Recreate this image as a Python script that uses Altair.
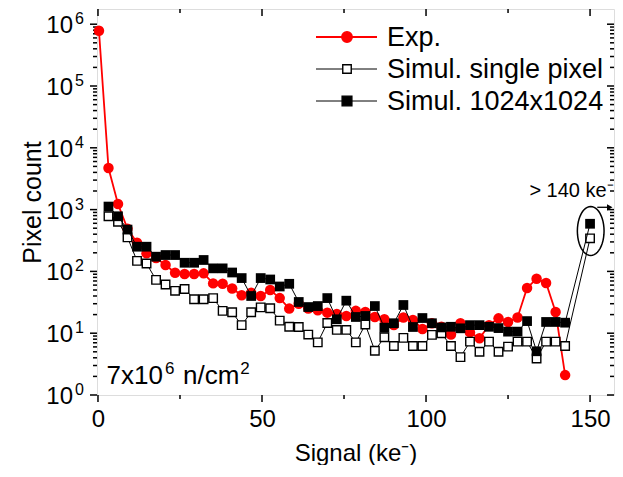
import math
import altair as alt
import pandas as pd

# ---------------- data ----------------
signal = [0.3, 3.2, 6.1, 9.0, 11.9, 14.8, 17.7, 20.6, 23.5, 26.4,
          29.3, 32.2, 35.1, 38.0, 40.9, 43.8, 46.7, 49.6, 52.5, 55.4,
          58.3, 61.2, 64.1, 67.0, 69.9, 72.8, 75.7, 78.6, 81.5, 84.4,
          87.3, 90.2, 93.1, 96.0, 98.9, 101.8, 104.7, 107.6, 110.5, 113.4,
          116.3, 119.2, 122.1, 125.0, 127.9, 130.8, 133.7, 136.6, 139.5, 142.4]

exp_counts = [785000, 4700, 1230, 490, 290, 196, 165, 127, 95, 91,
              91, 93, 64, 63, 53, 41, 45, 40, 50, 37,
              25, 30, 25, 23.5, 21.5, 20.4, 19, 23, 22, 18.3,
              16.8, 13.6, 18, 16.4, 11.7, 14.5, 12.7, 9.5, 14.5, 10.3,
              8.3, 13.5, 17.4, 15.2, 18, 54, 76, 65, 22, 2.1]

# simulated series start at the second bin
single_counts = [780, 635, 355, 148, 134, 73, 61.5, 48.5, 52,
                 35.5, 35.5, 37, 23, 21.8, 13.5, 21.8, 26.2, 25.3, 16,
                 12.7, 12.6, 9.5, 7.1, 14.6, 11.3, 11.3, 7.1, 13.8, 5.2,
                 8.6, 6.2, 8.4, 6.2, 6.2, 9.4, 10, 6.2, 4.1, 7.3,
                 5.0, 7.3, 5.0, 6.06, 7.3, 7.3, 3.9, 7.3, 7.3, 6.2]

full_counts = [1120, 780, 475, 251, 251, 173, 184, 184, 138,
               138, 153, 112, 112, 96, 78, 40, 78, 74, 57,
               63, 32, 26.5, 27.5, 37, 16.8, 33.6, 18.3, 19, 27.5,
               12.3, 14.5, 28.6, 12.6, 17.6, 14.5, 12.4, 12.7, 12, 13.5,
               13.5, 12.7, 12.1, 10.6, 10.6, 15.7, 5.1, 15.2, 15.2, 14.8]

overflow_x = 150
overflow_single = 343
overflow_full = 590

x_major = [0, 50, 100, 150]
x_minor = [25, 75, 125]
y_major = [1, 10, 100, 1000, 10000, 100000, 1000000]
y_exponents = ["0", "1", "2", "3", "4", "5", "6"]
y_minor = [m * 10 ** k for k in range(6) for m in range(2, 10)]

legend_labels = ["Exp.", "Simul. single pixel", "Simul. 1024x1024"]

# ---------------- layout / style ----------------
W, H = 517, 386
FONT = "Liberation Sans"
XS = alt.Scale(domain=[-0.3, 157.3], nice=False, zero=False)
YS = alt.Scale(type="log", domain=[1, 1.762e6], nice=False)

df_exp = pd.DataFrame({"x": signal, "y": exp_counts})
df_single = pd.DataFrame({"x": signal[1:] + [overflow_x], "y": single_counts + [overflow_single]})
df_full = pd.DataFrame({"x": signal[1:] + [overflow_x], "y": full_counts + [overflow_full]})

X_AXIS = alt.Axis(values=x_major, title="Signal (ke⁻)", ticks=False, domain=False, grid=False,
                  labelFontSize=24, titleFontSize=24, labelPadding=12, titlePadding=10,
                  labelFont=FONT, titleFont=FONT, labelColor="black", titleColor="black",
                  titleFontWeight="normal", labelFlush=False)
Y_AXIS = alt.Axis(values=y_major, title="Pixel count", ticks=False, domain=False, grid=False,
                  labels=False, titleX=-52, titleY=H / 2,
                  titleFontSize=25, titleFont=FONT, titleColor="black",
                  titleFontWeight="normal")

def xenc():
    return alt.X("x:Q", scale=XS, axis=X_AXIS)

def yenc():
    return alt.Y("y:Q", scale=YS, axis=Y_AXIS)

layers = []

# Exp. line first so it owns the axes
layers.append(alt.Chart(df_exp).mark_line(color="#ff0000", strokeWidth=1.8)
              .encode(x=xenc(), y=yenc()))

# tick marks (bottom/left outward, top/right inward)
def xticks(vals, length):
    d = pd.DataFrame({"x": vals})
    b = alt.Chart(d).mark_rule(color="black", strokeWidth=1.5)
    return [b.encode(x=xenc(), y=alt.value(H), y2=alt.value(H + length)),
            b.encode(x=xenc(), y=alt.value(0), y2=alt.value(length))]

def yticks(vals, length):
    d = pd.DataFrame({"y": vals})
    b = alt.Chart(d).mark_rule(color="black", strokeWidth=1.5)
    return [b.encode(y=yenc(), x=alt.value(0), x2=alt.value(-length)),
            b.encode(y=yenc(), x=alt.value(W), x2=alt.value(W - length))]

layers += xticks(x_major, 7) + xticks(x_minor, 4) + yticks(y_major, 7) + yticks(y_minor, 4)

# y tick labels as 10 with a raised exponent
ylab = pd.DataFrame({"y": y_major, "e": y_exponents})
layers.append(alt.Chart(ylab).mark_text(text="10", align="right", baseline="middle", dy=2,
                                        fontSize=24, font=FONT, color="black")
              .encode(x=alt.value(-24), y=yenc()))
layers.append(alt.Chart(ylab).mark_text(align="left", baseline="middle", dy=-5,
                                        fontSize=16, font=FONT, color="black")
              .encode(x=alt.value(-22), y=yenc(), text="e:N"))

layers.append(alt.Chart(df_exp).mark_point(shape="circle", filled=True, color="#ff0000",
                                           size=110, opacity=1)
              .encode(x=xenc(), y=yenc()))
# Simul. single pixel
layers.append(alt.Chart(df_single).mark_line(color="black", strokeWidth=1)
              .encode(x=xenc(), y=yenc()))
layers.append(alt.Chart(df_single).mark_point(shape="square", filled=True, fill="white",
                                              stroke="black", strokeWidth=1.4, size=72, opacity=1)
              .encode(x=xenc(), y=yenc()))
# Simul. 1024x1024
layers.append(alt.Chart(df_full).mark_line(color="black", strokeWidth=1)
              .encode(x=xenc(), y=yenc()))
layers.append(alt.Chart(df_full).mark_point(shape="square", filled=True, color="black",
                                            size=95, opacity=1)
              .encode(x=xenc(), y=yenc()))

# fluence annotation: 7x10^6 n/cm^2 with raised exponents
ann = pd.DataFrame({"x": [2.6, 20.4, 25.9, 43.4],
                    "y": [1.5, 2.2, 1.5, 2.2],
                    "t": ["7x10", "6", "n/cm", "2"],
                    "big": [True, False, True, False]})
layers.append(alt.Chart(ann).transform_filter("datum.big")
              .mark_text(align="left", baseline="alphabetic", fontSize=26, font=FONT, color="black")
              .encode(x=xenc(), y=yenc(), text="t:N"))
layers.append(alt.Chart(ann).transform_filter("!datum.big")
              .mark_text(align="left", baseline="alphabetic", fontSize=17, font=FONT, color="black")
              .encode(x=xenc(), y=yenc(), text="t:N"))

ann2 = pd.DataFrame({"x": [157.2], "y": [1620], "t": ["> 140 ke⁻"]})
layers.append(alt.Chart(ann2).mark_text(align="right", baseline="alphabetic", fontSize=20,
                                        font=FONT, color="black")
              .encode(x=xenc(), y=yenc(), text="t:N"))

# ellipse around the overflow bin
pts = []
for k in range(49):
    a = 2 * math.pi * k / 48
    pts.append(f"{0.545 * math.cos(a):.3f},{math.sin(a):.3f}")
ell_path = "M" + " L".join(pts) + " Z"
ell = pd.DataFrame({"x": [150.2], "y": [451]})
layers.append(alt.Chart(ell).mark_point(shape=ell_path, size=2400, filled=False,
                                        stroke="black", strokeWidth=1.5, opacity=1)
              .encode(x=xenc(), y=yenc()))
# arrow
arr = pd.DataFrame({"x": [152.2], "x2": [156.0], "y": [1090]})
layers.append(alt.Chart(arr).mark_rule(color="black", strokeWidth=1.3)
              .encode(x=xenc(), x2="x2:Q", y=yenc()))
arrh = pd.DataFrame({"x": [156.0], "y": [1090]})
layers.append(alt.Chart(arrh).mark_point(shape="triangle-right", size=40, filled=True,
                                         color="black", opacity=1)
              .encode(x=xenc(), y=yenc()))

# legend (drawn by hand)
leg_y = [28, 60, 92]
leg_styles = [
    dict(line="#ff0000", lw=1.8, shape="circle", fill="#ff0000", stroke="#ff0000", size=110),
    dict(line="black", lw=1, shape="square", fill="white", stroke="black", size=72),
    dict(line="black", lw=1, shape="square", fill="black", stroke="black", size=95),
]
for lab, yy, st in zip(legend_labels, leg_y, leg_styles):
    layers.append(alt.Chart().mark_rule(color=st["line"], strokeWidth=st["lw"])
                  .encode(x=alt.value(219), x2=alt.value(280), y=alt.value(yy)))
    layers.append(alt.Chart().mark_point(shape=st["shape"], filled=True, fill=st["fill"],
                                         stroke=st["stroke"], strokeWidth=1.4,
                                         size=st["size"], opacity=1)
                  .encode(x=alt.value(250), y=alt.value(yy)))
    layers.append(alt.Chart().mark_text(text=lab, align="left", baseline="middle",
                                        fontSize=27, font=FONT, color="black")
                  .encode(x=alt.value(290), y=alt.value(yy + 1)))

chart = (alt.layer(*layers)
         .properties(width=W, height=H,
                     autosize=alt.AutoSizeParams(type="none"),
                     padding={"left": 89, "top": 1, "right": 1, "bottom": 70})
         .configure_view(stroke="black", strokeWidth=1.6)
         .configure(background="white"))

chart.save("out.html", embed_options={"renderer": "svg", "actions": False})
